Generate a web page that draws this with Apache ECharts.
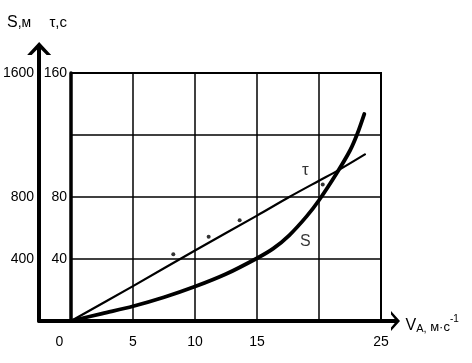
<!DOCTYPE html>
<html>
<head>
<meta charset="utf-8">
<script src="https://cdn.jsdelivr.net/npm/echarts@6/dist/echarts.min.js"></script>
<style>
html,body{margin:0;padding:0;background:#fff;}
#c{width:472px;height:363px;}
</style>
</head>
<body>
<div id="c"></div>
<script>
// ---- data ----
var xTicks = [0, 5, 10, 15, 25];
var tauTicks = [40, 80, 160];
var sTicks = [400, 800, 1600];
var tauCurve = [[0,0],[5,22.5],[10,45.5],[15,68],[17.6,80],[20,90.5],[21.5,97],[23.7,107.5]];
var tauPoints = [[8.25,43],[11.1,54.4],[13.6,65],[20.3,88]];
var sCurve = [[0,0],[2.5,48],[5,95],[7.5,153],[10,222],[12.5,303],[15,405],[16.3,467],[17.6,553],[19,675],[20,779],[21.4,950],[22.5,1100],[23.1,1210],[23.65,1335]];
var tauLabel = [18.9, 97.5];
var sLabel = [18.9, 510];

// ---- layout ----
var W = 472, H = 363;
var g0 = {left: 71, right: 91, top: 73, bottom: 42};
var g1 = {left: 38, right: 76.5, top: 48.5, bottom: 42};
var pxPerX = (W - g0.left - g0.right) / 25;
var pxPerS = (H - g0.top - g0.bottom) / 1600;
var x1Min = -(g0.left - g1.left) / pxPerX;
var x1Max = (W - g1.right - g0.left) / pxPerX;
var s1Max = (H - g1.bottom - g1.top) / pxPerS;

var FONT = 'Liberation Sans, Arial, sans-serif';
var chevUp = 'path://M0,13 L12,0 L24,13 L19.5,13 L12,5.5 L4.5,13 Z';
var chevX = 'path://M0,9 L10,0 L20,9 L16.5,9 L10,3.5 L3.5,9 Z';

var chart = echarts.init(document.getElementById('c'));
chart.setOption({
  animation: false,
  backgroundColor: '#fff',
  textStyle: {fontFamily: FONT, color: '#000'},
  grid: [
    {left: g0.left, right: g0.right, top: g0.top, bottom: g0.bottom, show: true, borderColor: '#000', borderWidth: 2, backgroundColor: 'transparent'},
    {left: g1.left, right: g1.right, top: g1.top, bottom: g1.bottom}
  ],
  xAxis: [
    {
      gridIndex: 0, type: 'value', min: 0, max: 25, interval: 5,
      axisLine: {show: false}, axisTick: {show: false},
      splitLine: {show: true, lineStyle: {color: '#000', width: 1.5}},
      axisLabel: {
        fontSize: 14, color: '#000', fontFamily: FONT, margin: 14,
        formatter: function (v) {
          if (xTicks.indexOf(v) < 0) return '';
          if (v === 0) return '{z|0}';
          return String(v);
        },
        rich: {z: {fontSize: 14, fontFamily: FONT, color: '#000', padding: [0, 23, 0, 0]}}
      }
    },
    {
      gridIndex: 1, type: 'value', min: x1Min, max: x1Max,
      axisLine: {show: true, onZero: false, lineStyle: {color: '#000', width: 4}, symbol: ['none', chevX], symbolSize: [20, 9]},
      axisTick: {show: false}, axisLabel: {show: false}, splitLine: {show: false},
      name: '{v|V}{a|A,}{b| м·с}{s|-1}', nameLocation: 'end', nameGap: 10,
      nameTextStyle: {
        align: 'left', verticalAlign: 'middle', padding: [6, 0, 0, 0],
        rich: {
          v: {fontSize: 16, fontFamily: FONT, color: '#000', verticalAlign: 'bottom', lineHeight: 20},
          a: {fontSize: 11, fontFamily: FONT, color: '#000', verticalAlign: 'bottom', lineHeight: 17},
          b: {fontSize: 13, fontFamily: FONT, color: '#000', verticalAlign: 'bottom', lineHeight: 18},
          s: {fontSize: 10, fontFamily: FONT, color: '#000', verticalAlign: 'top', lineHeight: 10}
        }
      }
    }
  ],
  yAxis: [
    {
      gridIndex: 0, type: 'value', min: 0, max: 160, interval: 40,
      axisLine: {show: true, lineStyle: {color: '#000', width: 3.5}},
      axisTick: {show: false},
      splitLine: {show: true, lineStyle: {color: '#000', width: 1.5}},
      axisLabel: {fontSize: 14, color: '#000', fontFamily: FONT, margin: 4,
        formatter: function (v) { return tauTicks.indexOf(v) >= 0 ? String(v) : ''; }},
      name: '{t|τ,с}', nameLocation: 'end', nameGap: 43,
      nameTextStyle: {align: 'right', padding: [0, 4, 0, 0],
        rich: {t: {fontSize: 15, fontFamily: FONT, color: '#000'}}}
    },
    {
      gridIndex: 0, type: 'value', min: 0, max: 1600, show: false
    },
    {
      gridIndex: 1, type: 'value', min: 0, max: s1Max, interval: 400,
      axisLine: {show: true, onZero: false, lineStyle: {color: '#000', width: 4}, symbol: ['none', chevUp], symbolSize: [24, 13]},
      axisTick: {show: false}, splitLine: {show: false},
      axisLabel: {fontSize: 14, color: '#000', fontFamily: FONT, margin: 5,
        formatter: function (v) { return sTicks.indexOf(v) >= 0 ? String(v) : ''; }},
      name: '{b|S}{s|,м}', nameLocation: 'end', nameGap: 18,
      nameTextStyle: {align: 'right', padding: [0, 8, 0, 0],
        rich: {
          b: {fontSize: 16, fontFamily: FONT, color: '#000', verticalAlign: 'bottom'},
          s: {fontSize: 14, fontFamily: FONT, color: '#000', verticalAlign: 'bottom'}
        }}
    }
  ],
  series: [
    {
      type: 'line', xAxisIndex: 0, yAxisIndex: 0, data: tauCurve, smooth: 0.3,
      showSymbol: false, lineStyle: {color: '#000', width: 2.2, cap: 'round'}, z: 5
    },
    {
      type: 'scatter', xAxisIndex: 0, yAxisIndex: 0, data: tauPoints,
      symbolSize: 4, itemStyle: {color: '#000'}, z: 6
    },
    {
      type: 'line', xAxisIndex: 0, yAxisIndex: 1, data: sCurve, smooth: 0.3,
      showSymbol: false, lineStyle: {color: '#000', width: 3.8, cap: 'round'}, z: 5
    },
    {
      type: 'scatter', xAxisIndex: 0, yAxisIndex: 0, symbolSize: 0,
      data: [{value: tauLabel, name: 'τ'}],
      label: {show: true, position: 'inside', formatter: '{b}', fontSize: 17, fontFamily: FONT, color: '#000'}
    },
    {
      type: 'scatter', xAxisIndex: 0, yAxisIndex: 1, symbolSize: 0,
      data: [{value: sLabel, name: 'S'}],
      label: {show: true, position: 'inside', formatter: '{b}', fontSize: 16, fontFamily: FONT, color: '#000'}
    }
  ]
});
</script>
</body>
</html>
